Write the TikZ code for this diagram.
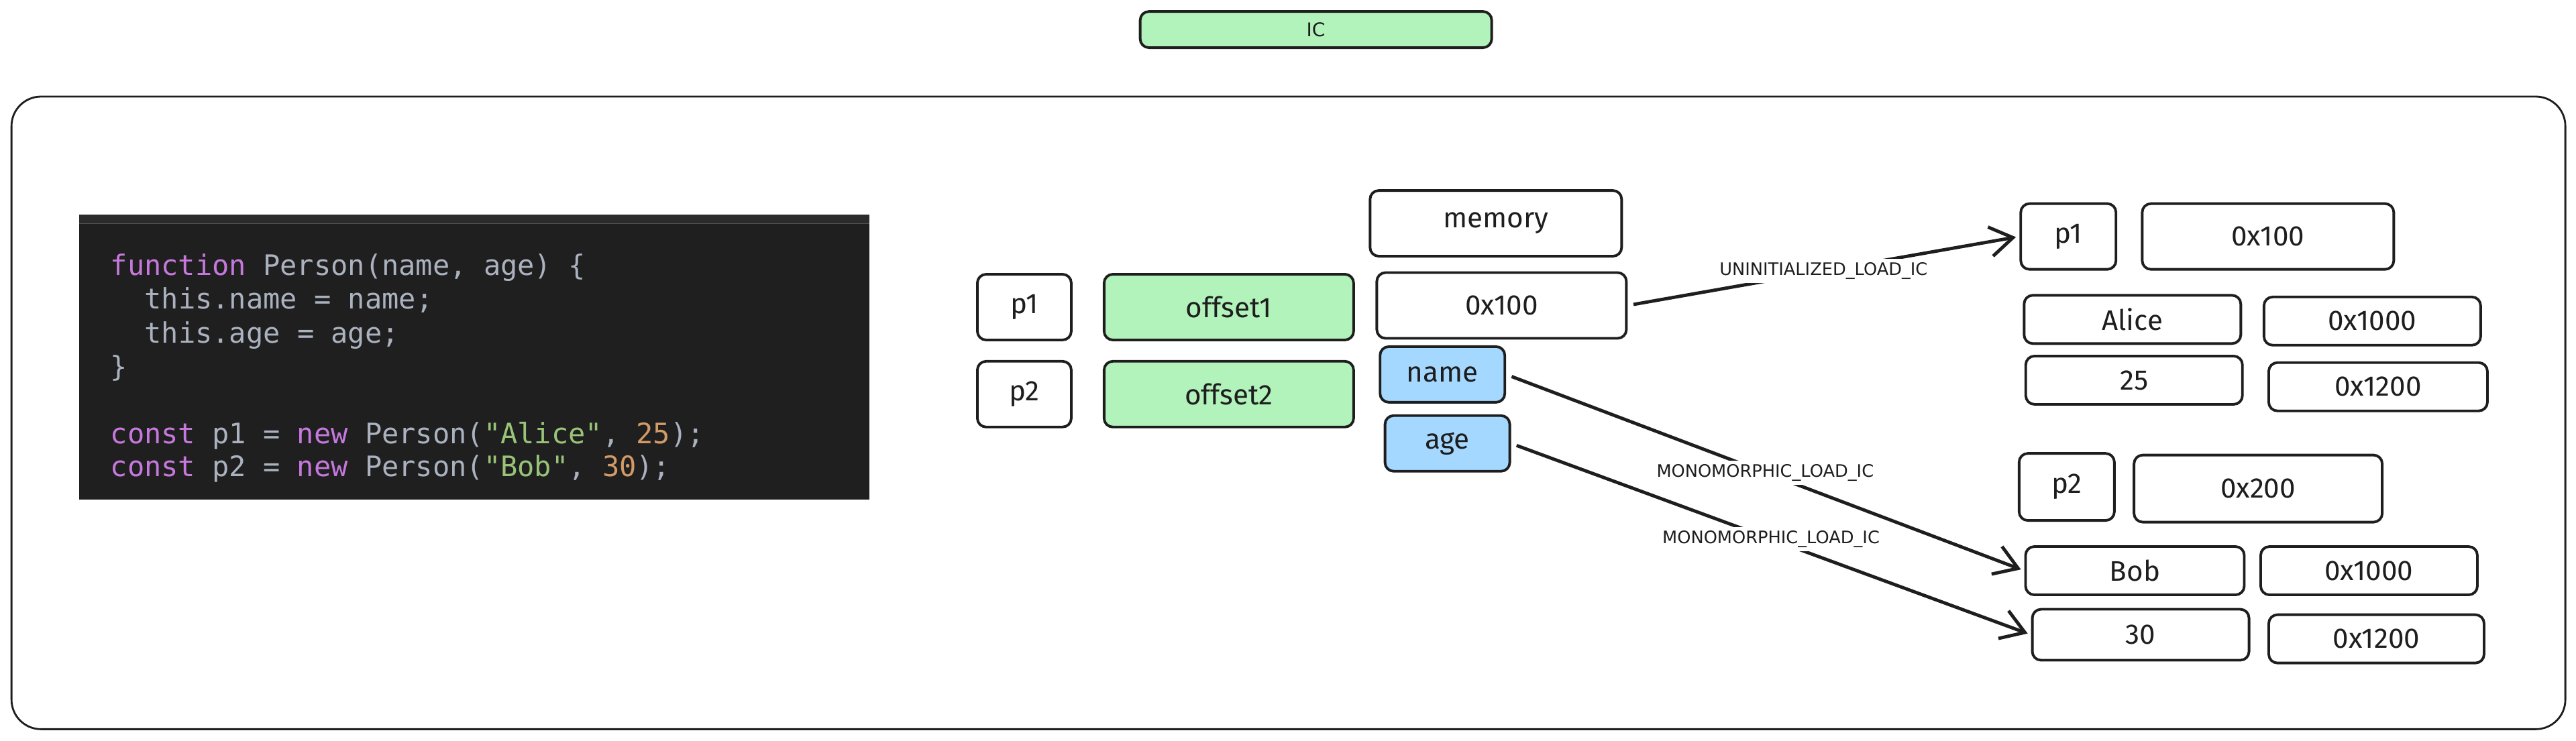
\documentclass[tikz,border=0pt]{standalone}
\usepackage{fontspec}
\setmainfont{Fira Sans}
\newfontfamily\codefont{DejaVu Sans Mono}
\newfontfamily\labelfont{DejaVu Sans}
\usetikzlibrary{arrows.meta}

\definecolor{ink}{HTML}{1E1E1E}
\definecolor{icgreen}{HTML}{B2F2BB}
\definecolor{fieldblue}{HTML}{A5D8FF}
\definecolor{codebg}{HTML}{1F1F1F}
\definecolor{codebar}{HTML}{2B2B2B}
\definecolor{kwpurple}{HTML}{C678DD}
\definecolor{plaingrey}{HTML}{ABB2BF}
\definecolor{strgreen}{HTML}{98C379}
\definecolor{numorange}{HTML}{D19A66}

\tikzstyle{cell} = [rectangle, rounded corners=1.3mm, draw=ink, line width=1.1pt, fill=white, text=ink, font=\fontsize{12}{14}\selectfont, inner sep=0pt, minimum height=0.98cm]
\tikzstyle{offsetcell} = [cell, fill=icgreen, minimum width=3.72cm]
\tikzstyle{fieldcell} = [cell, fill=fieldblue, minimum width=1.86cm, minimum height=0.83cm]
\tikzstyle{slotcell} = [cell, minimum width=3.23cm, minimum height=0.72cm]
\tikzstyle{icarrow} = [draw=ink, line width=1.4pt, -{Straight Barb[length=3.4mm,width=4.4mm]}, shorten >=1.5pt, shorten <=2.5pt]
\tikzstyle{icname} = [fill=white, inner sep=1.5pt, text=ink, font=\labelfont\fontsize{7.3}{8}\selectfont]
\tikzstyle{codeline} = [anchor=base west, inner sep=0pt, text=plaingrey, font=\codefont\fontsize{11.95}{14}\selectfont]

\begin{document}
\begin{tikzpicture}[x=0.02449cm, y=-0.02449cm]

	\useasboundingbox (0,0) rectangle (1568,451);

	\node (ic) [cell, fill=icgreen, minimum width=5.24cm, minimum height=0.54cm, font=\labelfont\fontsize{8}{9}\selectfont] at (801,18) {IC};
	\draw [ink, line width=0.8pt, rounded corners=0.44cm] (7,58.8) rectangle (1561.5,444);

	\fill [codebg] (48,130.7) rectangle (529,304);
	\fill [codebar] (48,130.7) rectangle (529,136);
	\draw [gray!50!codebar, line width=0.3pt] (48,136) -- (529,136);
	\node (code1) [codeline] at (67,167.8) {\textcolor{kwpurple}{function} Person(name, age) \{};
	\node (code2) [codeline] at (87.7,188.2) {this.name = name;};
	\node (code3) [codeline] at (87.7,208.7) {this.age = age;};
	\node (code4) [codeline] at (67,229.1) {\}};
	\node (code5) [codeline] at (67,269.9) {\textcolor{kwpurple}{const} p1 = \textcolor{kwpurple}{new} Person(\textcolor{strgreen}{"Alice"}, \textcolor{numorange}{25});};
	\node (code6) [codeline] at (67,290.3) {\textcolor{kwpurple}{const} p2 = \textcolor{kwpurple}{new} Person(\textcolor{strgreen}{"Bob"}, \textcolor{numorange}{30});};

	\node (memory) [cell, minimum width=3.75cm] at (910.5,136) {memory};
	\node (addr) [cell, minimum width=3.72cm] at (914,186) {0x100};
	\node (pone) [cell, minimum width=1.4cm] at (623.5,187) {p1};
	\node (offone) [offsetcell] at (748,187) {offset1};
	\node (ptwo) [cell, minimum width=1.4cm] at (623.5,240) {p2};
	\node (offtwo) [offsetcell] at (748,240) {offset2};
	\node (fname) [fieldcell] at (878,228) {name};
	\node (fage) [fieldcell] at (881,270) {age};

	\node (ronep) [cell, minimum width=1.42cm] at (1259,144) {p1};
	\node (roneaddr) [cell, minimum width=3.75cm] at (1380.5,144) {0x100};
	\node (alice) [slotcell] at (1298,194.5) {Alice};
	\node (aliceref) [slotcell] at (1444,195.5) {0x1000};
	\node (twentyfive) [slotcell] at (1299,231.5) {25};
	\node (aliceage) [slotcell, minimum width=3.26cm] at (1447.5,235.5) {0x1200};

	\node (rtwop) [cell, minimum width=1.42cm, minimum height=1cm] at (1258,296.5) {p2};
	\node (rtwoaddr) [cell, minimum width=3.7cm, minimum height=1cm] at (1374.5,297.5) {0x200};
	\node (bob) [slotcell, minimum width=3.26cm] at (1299.5,347.5) {Bob};
	\node (bobref) [slotcell] at (1442,347.5) {0x1000};
	\node (thirty) [slotcell, minimum height=0.76cm] at (1303,386.5) {30};
	\node (bobage) [slotcell, minimum width=3.21cm] at (1446.5,389) {0x1200};

	\draw [icarrow] (addr.east) -- node [icname] {UNINITIALIZED\_LOAD\_IC} (ronep.west);
	\draw [icarrow] (fname.east) -- node [icname] {MONOMORPHIC\_LOAD\_IC} (bob.west);
	\draw [icarrow] (fage.east) -- node [icname] {MONOMORPHIC\_LOAD\_IC} (thirty.west);

\end{tikzpicture}
\end{document}
